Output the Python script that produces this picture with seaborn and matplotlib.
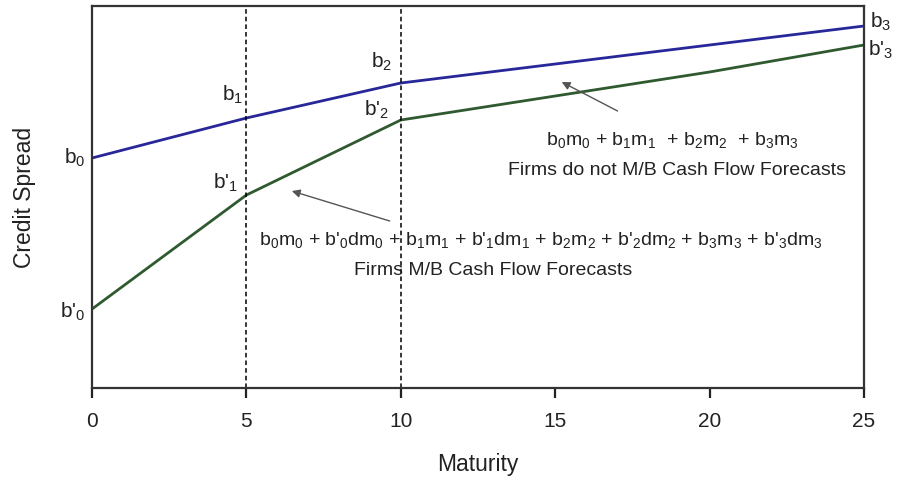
import matplotlib
matplotlib.use('Agg')
import matplotlib.pyplot as plt
import seaborn as sns
import pandas as pd

# curve data (credit spread in arbitrary units)
maturity_mb_not = [0, 5, 10, 25]
spread_mb_not = [230, 270, 305, 362]
maturity_mb = [0, 5, 10, 20, 25]
spread_mb = [79, 193, 268, 316, 343]
break_points = [5, 10]
x_ticks = [0, 5, 10, 15, 20, 25]

BLUE = '#27279a'
GREEN = '#2f5a2f'
TXT = '#222222'

sns.set_style('ticks')
plt.rcParams['font.family'] = ['Liberation Sans', 'DejaVu Sans']
plt.rcParams['mathtext.default'] = 'regular'

df_not = pd.DataFrame({'Maturity': maturity_mb_not, 'Spread': spread_mb_not})
df_mb = pd.DataFrame({'Maturity': maturity_mb, 'Spread': spread_mb})

fig = plt.figure(figsize=(8.97, 4.84), dpi=100)
ax = fig.add_axes([0.1026, 0.1983, 0.8606, 0.7893])

sns.lineplot(data=df_not, x='Maturity', y='Spread', color=BLUE, lw=2, ax=ax)
sns.lineplot(data=df_mb, x='Maturity', y='Spread', color=GREEN, lw=2, ax=ax)
for bp in break_points:
    ax.axvline(bp, color='black', lw=1.1, ls=(0, (3, 2)))

ax.set_xlim(0, 25)
ax.set_ylim(0, 382)
ax.set_xticks(x_ticks)
ax.tick_params(axis='y', left=False, labelleft=False)
ax.tick_params(axis='x', which='major', direction='out', length=7, width=1.6,
               color='#222222', labelsize=15, labelcolor=TXT, pad=10)
for s in ax.spines.values():
    s.set_color('#333333')
    s.set_linewidth(1.6)

ax.set_xlabel('Maturity', fontsize=16.5, color=TXT, labelpad=16)
ax.set_ylabel('Credit Spread', fontsize=16.5, color=TXT, labelpad=40)

# point labels
fs = 15
ax.text(-0.22, 230, 'b$_0$', ha='right', va='center', fontsize=fs, color=TXT, clip_on=False)
ax.text(-0.22, 76, "b'$_0$", ha='right', va='center', fontsize=fs, color=TXT, clip_on=False)
ax.text(4.56, 293, 'b$_1$', ha='center', va='center', fontsize=fs, color=TXT)
ax.text(4.34, 205, "b'$_1$", ha='center', va='center', fontsize=fs, color=TXT)
ax.text(9.39, 326, 'b$_2$', ha='center', va='center', fontsize=fs, color=TXT)
ax.text(9.22, 278, "b'$_2$", ha='center', va='center', fontsize=fs, color=TXT)
ax.text(25.18, 366, 'b$_3$', ha='left', va='center', fontsize=fs, color=TXT, clip_on=False)
ax.text(25.12, 338, "b'$_3$", ha='left', va='center', fontsize=fs, color=TXT, clip_on=False)

# annotations
afs = 14
ax.text(18.8, 248, 'b$_0$m$_0$ + b$_1$m$_1$  + b$_2$m$_2$  + b$_3$m$_3$',
        ha='center', va='center', fontsize=afs, color=TXT)
ax.text(18.96, 218, 'Firms do not M/B Cash Flow Forecasts',
        ha='center', va='center', fontsize=afs, color=TXT)
ax.text(14.53, 148, "b$_0$m$_0$ + b'$_0$dm$_0$ + b$_1$m$_1$ + b'$_1$dm$_1$ + "
        "b$_2$m$_2$ + b'$_2$dm$_2$ + b$_3$m$_3$ + b'$_3$dm$_3$",
        ha='center', va='center', fontsize=afs, color=TXT)
ax.text(12.98, 118, 'Firms M/B Cash Flow Forecasts',
        ha='center', va='center', fontsize=afs, color=TXT)

arrow = dict(arrowstyle='-|>', color='#555555', lw=1, mutation_scale=12,
             shrinkA=0, shrinkB=0)
ax.annotate('', xy=(15.21, 306), xytext=(17.02, 277), arrowprops=arrow)
ax.annotate('', xy=(6.47, 197), xytext=(9.64, 167), arrowprops=arrow)

fig.savefig('out.png', dpi=100)
